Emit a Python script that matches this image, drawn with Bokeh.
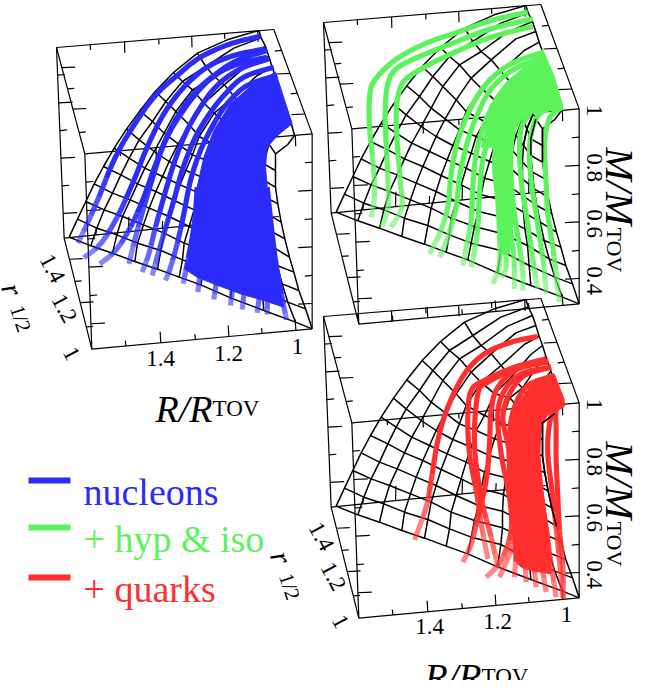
from bokeh.plotting import figure
from bokeh.models import Range1d
from bokeh.core.properties import value
from bokeh.embed import file_html
from bokeh.resources import INLINE
import math

# ---- traced picture data (reference-crop units, 3 per page pixel) ----
box_A = (935, 400); box_B = (253, 460); box_C = (168, 141); box_D = (820, 87)
box_E = (935, 985); box_F = (274, 1046); box_G = (191, 713); box_H = (835, 648)

mesh_rows = [
 [(775,90),(680,118),(591,158),(519,216),(464,273),(418,331),(378,386),(341,443),(309,498),(281,550),(256,603),(231,656),(206,710)],
 [(782,112),(700,143),(616,198),(546,243),(496,303),(456,363),(416,418),(386,473),(361,523),(336,578),(311,628),(289,683),(271,736)],
 [(795,138),(720,170),(641,228),(576,268),(526,333),(491,398),(461,453),(433,503),(411,550),(389,598),(366,648),(349,703),(336,758)],
 [(805,168),(745,190),(671,253),(611,308),(566,373),(533,430),(506,483),(486,528),(466,573),(446,623),(429,673),(411,728),(403,783)],
 [(815,200),(770,225),(701,288),(641,338),(596,408),(576,463),(556,510),(539,553),(521,600),(506,648),(491,698),(481,750),(471,806)],
 [(825,228),(790,255),(731,323),(681,373),(651,438),(626,483),(611,533),(596,578),(581,628),(566,678),(551,728),(546,778),(536,830)],
 [(835,260),(810,290),(765,355),(727,385),(701,458),(681,508),(666,558),(651,608),(641,658),(633,708),(621,753),(611,803),(601,853)],
 [(850,305),(825,340),(790,400),(765,430),(745,480),(735,525),(725,575),(715,625),(708,675),(705,725),(705,775),(700,825),(690,892)],
 [(860,335),(835,370),(797,415),(778,460),(768,510),(765,560),(765,610),(765,660),(768,710),(772,760),(780,810),(785,870),(790,930)],
 [(870,360),(850,385),(805,430),(790,490),(790,540),(795,590),(800,640),(808,690),(818,740),(830,795),(845,850),(862,905),(885,965)],
 [(882,405),(862,432),(825,460),(825,510),(825,560),(832,610),(842,665),(853,715),(867,770),(880,815),(895,870),(915,925),(935,985)],
]

blue_mass = [(825,215),(875,370),(830,405),(800,440),(795,500),(800,560),(815,700),(835,850),(850,920),(790,900),
             (720,880),(640,850),(590,830),(552,805),(565,770),(580,650),(590,560),(610,470),(640,390),(690,310),(760,250)]
blue_curves = [
 [(780,107),(690,130),(600,170),(530,225),(460,290),(390,390),(340,480),(295,590),(260,670),(232,728)],
 [(795,145),(700,165),(620,200),(550,260),(490,340),(440,440),(400,540),(350,650),(300,730),(250,772)],
 [(800,170),(700,195),(630,235),(570,300),(510,390),(470,480),(430,590),(390,680),(345,750),(298,790)],
 [(800,150),(710,180),(640,225),(580,280),(530,350),(490,430),(460,520),(430,620),(405,710),(385,790)],
 [(805,175),(720,205),(650,255),(600,320),(555,400),(520,490),(490,590),(465,680),(445,760),(425,815)],
 [(820,200),(730,230),(670,285),(620,350),(580,420),(545,510),(520,600),(490,700),(470,770),(455,825)],
 [(830,225),(740,255),(680,310),(640,370),(600,450),(570,540),(550,640),(530,730),(510,800),(495,840)],
 [(590,560),(580,680),(548,850)],
 [(620,560),(610,720),(592,875)],
 [(660,560),(660,740),(640,897)],
 [(700,560),(705,760),(690,915)],
 [(730,560),(740,760),(725,927)],
 [(760,560),(785,780),(770,937)],
 [(780,560),(800,780),(800,942)],
 [(800,560),(825,780),(858,958)],
]

green_mass = [(655,148),(690,230),(715,318),(660,330),(620,345),(565,360),(562,540),(568,640),(555,760),(530,760),
              (520,600),(512,440),(470,440),(500,320),(545,260),(600,195)]
green_curves = [
 [(610,35),(500,60),(400,95),(300,130),(210,180),(150,240),(135,290),(135,380),(145,480),(150,580),(140,650)],
 [(625,55),(500,85),(380,130),(280,170),(215,205),(190,250),(182,330),(185,430),(190,530),(190,620),(172,680)],
 [(625,78),(500,110),(380,160),(300,200),(240,240),(220,290),(215,350),(220,450),(228,550),(232,620),(200,680)],
 [(655,155),(560,190),(490,245),(440,320),(400,420),(380,520),(370,620),(345,700),(315,760)],
 [(660,170),(570,205),(500,265),(460,340),(430,420),(405,530),(395,620),(370,710),(345,770)],
 [(670,190),(580,225),(520,290),(480,370),(455,460),(445,560),(440,660),(425,740),(415,795)],
 [(680,205),(590,245),(530,310),(500,390),(475,480),(465,580),(460,680),(450,750),(440,800)],
 [(690,230),(600,265),(545,330),(520,400),(510,490),(520,600),(525,700),(525,790),(505,850)],
 [(695,250),(610,285),(555,350),(530,420),(525,520),(530,620),(540,720),(545,800),(530,830)],
 [(700,265),(620,300),(565,360),(545,430),(540,530),(550,640),(565,740),(570,810),(570,865)],
 [(705,285),(630,315),(575,370),(560,440),(560,540),(570,640),(585,740),(595,810),(595,870)],
 [(710,300),(640,325),(595,370),(585,440),(590,540),(605,640),(620,740),(630,810),(640,865)],
 [(715,320),(660,330),(630,365),(615,440),(620,540),(635,640),(650,740),(660,810),(665,880)],
 [(715,320),(680,345),(665,390),(660,450),(665,550),(670,640),(685,740),(695,820),(705,905)],
]

red_mass = [(690,192),(720,270),(690,295),(665,320),(650,345),(645,430),(655,540),(675,680),(680,790),(620,780),
            (590,770),(570,750),(560,600),(550,470),(555,370),(570,290),(620,225)]
red_curves = [
 [(640,78),(560,95),(480,130),(420,190),(370,290),(340,390),(320,510),(305,590),(270,688)],
 [(665,145),(570,170),(480,210),(440,240),(430,320),(435,430),(455,540),(470,640),(490,745)],
 [(670,155),(580,175),(520,230),(500,300),(495,400),(485,510),(460,620),(440,700),(415,755)],
 [(672,150),(575,175),(490,215),(460,250),(450,400),(470,560),(500,680),(520,770)],
 [(680,170),(590,190),(540,240),(520,310),(530,430),(555,560),(560,660),(530,750),(485,800)],
 [(680,170),(600,195),(555,250),(535,320),(550,400),(565,480),(575,600),(570,690),(525,800)],
 [(690,195),(610,225),(570,290),(555,370),(555,470),(565,600),(575,700),(570,800)],
 [(695,210),(625,240),(585,300),(575,400),(575,520),(590,640),(600,730),(605,815)],
 [(705,235),(640,250),(605,310),(595,400),(590,520),(610,650),(625,740),(635,830)],
 [(715,255),(650,270),(625,320),(620,420),(620,540),(640,660),(650,750),(665,845)],
 [(720,272),(680,290),(650,330),(640,420),(650,550),(665,660),(680,760),(695,860)],
 [(718,280),(690,300),(675,340),(670,430),(685,560),(700,700),(715,860)],
 [(715,285),(695,300),(695,360),(695,450),(700,560),(705,660),(715,760),(717,865)],
]

legend_labels = ["nucleons", "+ hyp & iso", "+ quarks"]
mass_ticks = ["1", "0.8", "0.6", "0.4"]
radius_ticks = ["1.4", "1.2", "1"]
BLUE = "#2b2bfa"; GREEN = "#5cf25c"; RED = "#ff2f2f"
SERIF = "Liberation Serif"

p = figure(width=640, height=680, x_range=Range1d(0, 640), y_range=Range1d(680, 0),
           output_backend="svg", toolbar_location=None, min_border=0)
p.xaxis.visible = False; p.yaxis.visible = False
p.grid.visible = False; p.outline_line_color = None

def tr(pts, off):
    return [q[0]/3 + off[0] for q in pts], [q[1]/3 + off[1] for q in pts]

def lerp(a, b, t):
    return (a[0] + (b[0]-a[0])*t, a[1] + (b[1]-a[1])*t)

def seg(a, b, off, w=1.2):
    xs, ys = tr([a, b], off)
    p.line(xs, ys, line_color="black", line_width=w)

M_F = [.145, .29, .436, .58, .726, .87]
R_F = [.074, .227, .378, .53, .687, .845]
Q_F = [.19, .39, .58, .80]
H_F = [.148, .30, .457, .61, .767, .92]

def box(off):
    A,B,C,D,E,F,G,H = box_A,box_B,box_C,box_D,box_E,box_F,box_G,box_H
    for a, b in [(D,C),(C,B),(B,A),(A,D),(A,E),(E,F),(F,B),(C,G),(G,F),(G,H)]:
        seg(a, b, off)
    for i, t in enumerate(M_F):
        L = 42 if i % 2 else 22
        q = lerp(A, E, t); seg(q, (q[0]-L, q[1]+2), off)
        q = lerp(B, F, t); seg(q, (q[0]+L, q[1]-2), off)
        q = lerp(C, G, t); seg(q, (q[0]+L, q[1]-2), off)
    for i, t in enumerate(R_F):
        L = 33 if i % 2 == 0 else 16
        q = lerp(E, F, t); seg(q, (q[0]-2, q[1]-L), off)
        q = lerp(D, C, t); seg(q, (q[0]+1, q[1]+L), off)
        q = lerp(A, B, t); seg(q, (q[0]+1, q[1]+L), off)
    for i, t in enumerate(H_F):
        L = 45 if i % 2 else 22
        q = lerp(G, H, t); seg(q, (q[0]+1, q[1]-L), off)
    for i, t in enumerate(Q_F):
        L = 40 if i % 2 == 0 else 20
        q = lerp(A, D, t); seg(q, (q[0]-L, q[1]+2), off)
        q = lerp(C, B, t); seg(q, (q[0]+L, q[1]-2), off)
        q = lerp(G, F, t); seg(q, (q[0]+L, q[1]-2), off)

def mesh(off):
    for row in mesh_rows:
        xs, ys = tr(row, off)
        p.line(xs, ys, line_color="black", line_width=1.5)
    for j in [0] + list(range(2, len(mesh_rows[0]))):
        xs, ys = tr([r[j] for r in mesh_rows], off)
        p.line(xs, ys, line_color="black", line_width=1.5)

def smooth(pts, n=6):
    P = [pts[0]] + list(pts) + [pts[-1]]
    out = []
    for i in range(1, len(P)-2):
        for k in range(n):
            t = k/n
            out.append(tuple(0.5*((2*P[i][c]) + (-P[i-1][c]+P[i+1][c])*t +
                        (2*P[i-1][c]-5*P[i][c]+4*P[i+1][c]-P[i+2][c])*t*t +
                        (-P[i-1][c]+3*P[i][c]-3*P[i+1][c]+P[i+2][c])*t**3) for c in (0, 1)))
    out.append(pts[-1])
    return out

def curve(pts, off, col, w=5.2):
    s = smooth(pts)
    n = len(s)
    cut = int(n*0.72)
    xs, ys = tr(s[:cut+1], off)
    p.line(xs, ys, line_color=col, line_width=w, line_join="round")
    rest = s[cut:]
    m = len(rest)
    for k, alpha in enumerate([.92, .82, .7, .58]):
        part = rest[k*(m-1)//4:(k+1)*(m-1)//4+1]
        xs, ys = tr(part, off)
        p.line(xs, ys, line_color=col, line_alpha=alpha, line_width=w, line_cap="butt")

def mass(pts, off, col):
    xs, ys = tr(pts, off)
    p.patch(xs, ys, fill_color=col, line_color=col, line_width=1)

def label(x, y, txt, size, angle=0.0, style="normal", align="center", base="middle", col="black"):
    p.text([x], [y], text=[txt], text_font=value(SERIF), text_font_size=f"{size}px",
           text_font_style=style, angle=angle, text_align=align, text_baseline=base, text_color=col)

OFF1 = (0, 0); OFF2 = (267, -25); OFF3 = (267, 269)
Z1 = (0, 0); Z2 = (324, 0); Z3 = (324, 310)

for off in (OFF1, OFF2, OFF3):
    box(off); mesh(off)

mass(blue_mass, Z1, BLUE)
for c in blue_curves: curve(c, Z1, BLUE)
mass(green_mass, Z2, GREEN)
for c in green_curves: curve(c, Z2, GREEN)
mass(red_mass, Z3, RED)
for c in red_curves: curve(c, Z3, RED)

# mesh edges that lie in front of the coloured bands
xs, ys = tr(mesh_rows[10][1:9], OFF3)
p.line(xs, ys, line_color="black", line_width=1.6)
for k in (8, 9, 10):
    xs, ys = tr(mesh_rows[k][2:5], OFF2)
    p.line(xs, ys, line_color="black", line_width=1.6)

A90 = -math.pi/2
for dy in (0, 294):
    for lab, y in zip(mass_ticks, (110, 167, 223, 280)):
        label(594, y+dy, lab, 23, A90)
    label(619, 147+dy, "M/M", 40, A90, "italic", "left", "alphabetic")
    label(614, 227+dy, "TOV", 22, A90, "normal", "left", "alphabetic")

for dx, dy in ((0, 0), (269, 268)):
    for lab, x, y in zip(radius_ticks, (160, 228, 297), (358, 353, 346)):
        label(x+dx, y+dy, lab, 23)
    for lab, x, y in zip(radius_ticks, (52, 64, 71), (268, 308, 353)):
        label(x+dx, y+dy, lab, 23, -1.08)
    label(155+dx, 408+dy, "R/R", 38, 0, "italic", "left", "alphabetic")
    label(212+dx, 408+dy, "TOV", 23, 0, "normal", "left", "alphabetic")
    label(12+dx, 289+dy, "r", 30, -1.25, "italic", "center", "middle")
    label(20+dx, 318+dy, "1/2", 21, -1.25, "normal", "center", "middle")

for lab, col, y in zip(legend_labels, (BLUE, GREEN, RED), (480, 527, 577)):
    p.line([28, 70], [y, y], line_color=col, line_width=6)
    label(83, y+11, lab, 38, 0, "normal", "left", "alphabetic", col)

open("out.html", "w").write(file_html(p, INLINE))
